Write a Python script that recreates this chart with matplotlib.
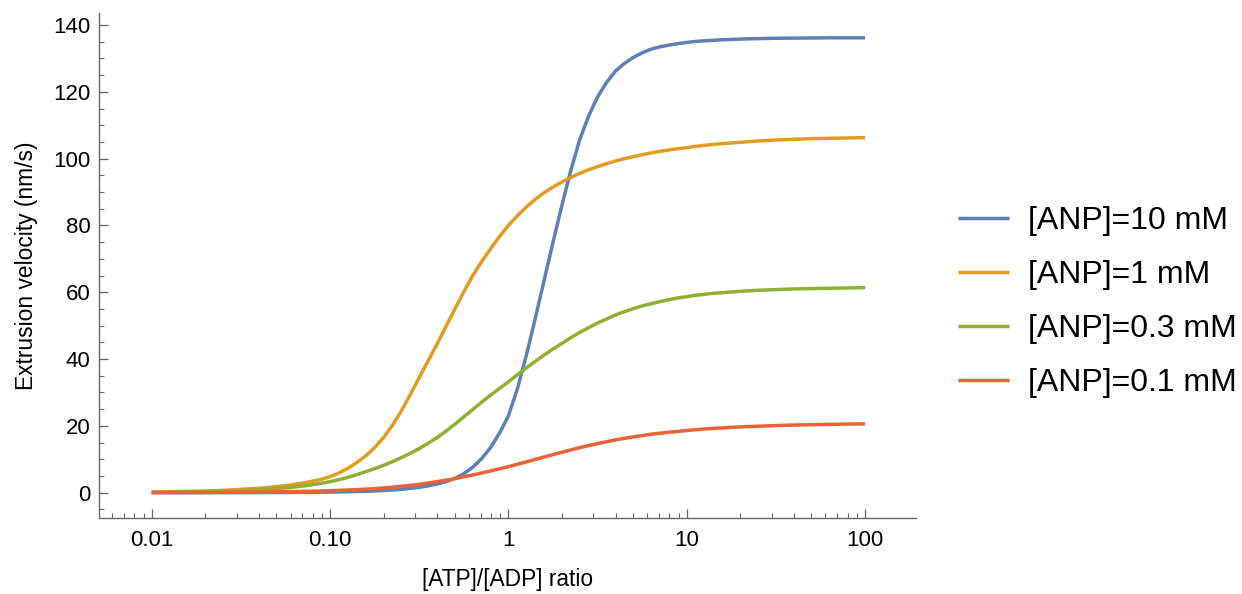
import numpy as np
import matplotlib
matplotlib.use("Agg")
import matplotlib.pyplot as plt
from matplotlib.ticker import FixedLocator, FixedFormatter, MultipleLocator, LogLocator, NullFormatter

plt.rcParams['font.family'] = ['Liberation Sans', 'DejaVu Sans']

# ATP/ADP ratio sample points (log spaced, 0.01 .. 100)
ratio = np.logspace(-2, 2, 81)

# extrusion velocity (nm/s)
v_10mM = [0.0, 0.0, 0.0, 0.0, 0.0, 0.0, 0.01, 0.01, 0.01, 0.015,
          0.02, 0.025, 0.03, 0.04, 0.05, 0.065, 0.08, 0.1, 0.12, 0.15,
          0.18, 0.23, 0.28, 0.35, 0.42, 0.52, 0.65, 0.8, 1.0, 1.3,
          1.6, 2.05, 2.6, 3.3, 4.3, 5.7, 7.6, 10.2, 13.5, 17.8,
          23.0, 31.0, 41.0, 52.0, 63.5, 75.0, 86.0, 96.5, 105.7, 112.8,
          118.5, 122.8, 126.2, 128.5, 130.3, 131.7, 132.8, 133.5, 134.0, 134.45,
          134.8, 135.1, 135.3, 135.45, 135.6, 135.7, 135.8, 135.9, 135.95, 136.0,
          136.05, 136.08, 136.1, 136.12, 136.15, 136.17, 136.2, 136.2, 136.2, 136.2,
          136.2]
v_1mM = [0.2, 0.25, 0.3, 0.35, 0.4, 0.45, 0.5, 0.6, 0.7, 0.85,
         1.0, 1.15, 1.3, 1.55, 1.8, 2.1, 2.5, 2.9, 3.4, 4.0,
         4.8, 5.9, 7.3, 9.0, 11.0, 13.5, 16.5, 20.2, 24.5, 29.4,
         34.5, 39.5, 44.5, 49.8, 55.0, 60.1, 65.0, 69.2, 73.0, 76.7,
         80.0, 82.9, 85.5, 87.8, 89.8, 91.5, 93.0, 94.4, 95.6, 96.7,
         97.6, 98.5, 99.3, 100.0, 100.6, 101.2, 101.7, 102.2, 102.6, 103.0,
         103.3, 103.7, 104.0, 104.3, 104.5, 104.7, 104.9, 105.1, 105.3, 105.45,
         105.6, 105.7, 105.8, 105.9, 106.0, 106.05, 106.1, 106.15, 106.2, 106.25,
         106.3]
v_03mM = [0.1, 0.12, 0.15, 0.17, 0.2, 0.25, 0.3, 0.35, 0.4, 0.5,
          0.6, 0.75, 0.9, 1.05, 1.25, 1.45, 1.7, 2.0, 2.4, 2.8,
          3.3, 3.9, 4.6, 5.4, 6.3, 7.2, 8.2, 9.3, 10.5, 11.8,
          13.2, 14.8, 16.5, 18.4, 20.5, 22.7, 24.9, 27.1, 29.2, 31.2,
          33.2, 35.3, 37.3, 39.3, 41.2, 43.0, 44.7, 46.4, 48.0, 49.4,
          50.8, 52.0, 53.2, 54.2, 55.1, 55.9, 56.6, 57.2, 57.8, 58.3,
          58.7, 59.1, 59.4, 59.7, 59.9, 60.1, 60.3, 60.45, 60.6, 60.7,
          60.8, 60.9, 61.0, 61.05, 61.1, 61.15, 61.2, 61.25, 61.3, 61.35,
          61.4]
v_01mM = [0.04, 0.045, 0.05, 0.055, 0.06, 0.07, 0.08, 0.095, 0.11, 0.13,
          0.15, 0.17, 0.2, 0.23, 0.26, 0.3, 0.34, 0.39, 0.45, 0.52,
          0.6, 0.7, 0.8, 0.92, 1.05, 1.22, 1.4, 1.64, 1.9, 2.2,
          2.5, 2.9, 3.3, 3.75, 4.2, 4.75, 5.3, 5.9, 6.5, 7.15,
          7.8, 8.5, 9.2, 9.95, 10.7, 11.4, 12.1, 12.8, 13.5, 14.1,
          14.7, 15.25, 15.8, 16.25, 16.7, 17.1, 17.5, 17.8, 18.1, 18.35,
          18.6, 18.85, 19.1, 19.25, 19.4, 19.55, 19.7, 19.8, 19.9, 20.0,
          20.1, 20.18, 20.25, 20.3, 20.35, 20.4, 20.45, 20.5, 20.55, 20.58,
          20.6]

labels = ["[ANP]=10 mM", "[ANP]=1 mM", "[ANP]=0.3 mM", "[ANP]=0.1 mM"]
colors = ["#5E81B5", "#E19C24", "#8FB032", "#EB6235"]
xtick_vals = [0.01, 0.1, 1, 10, 100]
xtick_labels = ["0.01", "0.10", "1", "10", "100"]

fig = plt.figure(figsize=(12.42, 5.94), dpi=100)
ax = fig.add_axes([0.0797, 0.128, 0.658, 0.850])

for vals, lab, col in zip([v_10mM, v_1mM, v_03mM, v_01mM], labels, colors):
    ax.plot(ratio, vals, color=col, lw=2.5, label=lab, solid_capstyle='butt')

ax.set_xscale('log')
ax.set_xlim(0.00506, 193.6)
ax.set_ylim(-7.57, 143.6)

ax.xaxis.set_major_locator(FixedLocator(xtick_vals))
ax.xaxis.set_major_formatter(FixedFormatter(xtick_labels))
ax.xaxis.set_minor_locator(LogLocator(base=10, subs=np.arange(2, 10)))
ax.xaxis.set_minor_formatter(NullFormatter())
ax.yaxis.set_major_locator(MultipleLocator(20))
ax.yaxis.set_minor_locator(MultipleLocator(5))

for s in ['top', 'right']:
    ax.spines[s].set_visible(False)
for s in ['left', 'bottom']:
    ax.spines[s].set_color('#666666')
    ax.spines[s].set_linewidth(1.0)

ax.tick_params(which='major', direction='in', length=6.5, width=0.9, color='#666666',
               labelsize=16, labelcolor='black')
ax.tick_params(which='minor', direction='in', length=3.6, width=0.8, color='#666666')
ax.tick_params(axis='x', which='major', pad=9)
ax.tick_params(axis='y', which='major', pad=6)

ax.set_xlabel("[ATP]/[ADP] ratio", fontsize=16.4, labelpad=12)
ax.set_ylabel("Extrusion velocity (nm/s)", fontsize=16.4, labelpad=11)

fig.legend(loc='center left', bbox_to_anchor=(0.7713, 0.491), frameon=False,
           fontsize=23, handlelength=1.6, handletextpad=0.6, labelspacing=0.75,
           borderpad=0, borderaxespad=0)

fig.savefig("out.png", dpi=100)
